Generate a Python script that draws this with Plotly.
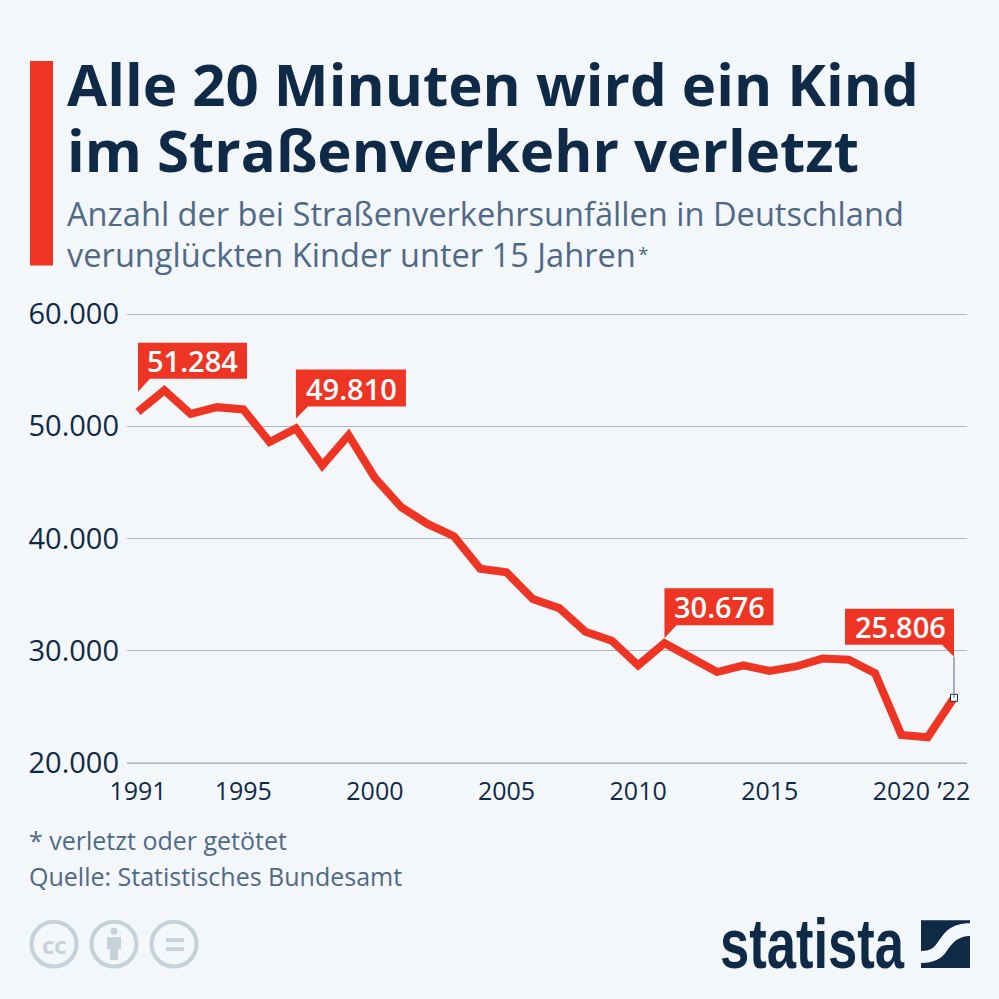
import plotly.graph_objects as go

years = list(range(1991, 2023))
values = [51284, 53200, 51100, 51700, 51500, 48600, 49810, 46500, 49200, 45400,
          42800, 41300, 40200, 37300, 37000, 34600, 33800, 31700, 30900, 28700,
          30676, 29300, 28100, 28700, 28200, 28600, 29300, 29200, 28000, 22500,
          22300, 25806]
x_ticks = [1991, 1995, 2000, 2005, 2010, 2015, 2020, 2022]
x_labels = ["1991", "1995", "2000", "2005", "2010", "2015", "2020", "’22"]
y_ticks = [20000, 30000, 40000, 50000, 60000]
y_labels = ["20.000", "30.000", "40.000", "50.000", "60.000"]
callout_years = [1991, 1997, 2011, 2022]
callout_values = [51284, 49810, 30676, 25806]
callout_labels = ["51.284", "49.810", "30.676", "25.806"]

title_lines = ["Alle 20 Minuten wird ein Kind", "im Straßenverkehr verletzt"]
subtitle_lines = ["Anzahl der bei Straßenverkehrsunfällen in Deutschland",
                  "verunglückten Kinder unter 15 Jahren"]
footnote = "* verletzt oder getötet"
source = "Quelle: Statistisches Bundesamt"

RED = "#ee3524"
NAVY = "#0f2a47"
SLATE = "#4f6a87"
BG = "#f4f7fa"
GRID = "#aeb8c2"
ICON = "#c6d2da"
FONT = "Open Sans"

# plot area in pixels; 2 px of head room keep the gridlines at both ends of the range
L, R, T, B = 127, 967, 311.5, 765.5
PAD = 2 / 11.25 * 1000


def px(x):
    return (x - L) / (R - L)


def py(y):
    return (B - y) / (B - T)


def text(x, y, s, size, color, anchor="left", weight=400, family=FONT):
    return dict(x=px(x), y=py(y), xref="paper", yref="paper", text=s,
                showarrow=False, xanchor=anchor, yanchor="middle", align="left",
                font=dict(family=family, size=size, color=color, weight=weight))


def path(d, color):
    out = ""
    for cmd, pts in d:
        out += cmd + " " + " ".join(f"{px(a):.5f},{py(b):.5f}" for a, b in pts) + " "
    return dict(type="path", xref="paper", yref="paper", path=out + "Z",
                fillcolor=color, line=dict(width=0), layer="above")


def circle(cx, cy, r, line=None, fill="rgba(0,0,0,0)"):
    return dict(type="circle", xref="paper", yref="paper", x0=px(cx - r), x1=px(cx + r),
                y0=py(cy + r), y1=py(cy - r), fillcolor=fill,
                line=dict(color=line, width=4) if line else dict(width=0))


def rect(x0, y0, x1, y1, color):
    return dict(type="rect", xref="paper", yref="paper", x0=px(x0), x1=px(x1),
                y0=py(y1), y1=py(y0), fillcolor=color, line=dict(width=0))


def callout(year, value, body, tip):
    # pixel offsets from the data point: x right, y up
    x0, x1, y0, y1 = body
    pts = f"M {x0},{y1} L {x1},{y1} L {x1},{y0} "
    if tip[3] == "l":
        pts += f"L {tip[1]},{y0} L {tip[0]},{tip[2]} L {x0},{y0} Z"
    else:
        pts += f"L {x1},{tip[2]} L {tip[1]},{y0} L {x0},{y0} Z"
    return dict(type="path", xref="x", yref="y", xsizemode="pixel", ysizemode="pixel",
                xanchor=year, yanchor=value, path=pts, fillcolor=RED, line=dict(width=0))


shapes = [rect(30, 60, 53, 265, RED),
          dict(type="line", xref="paper", yref="y", x0=0, x1=1, y0=20000, y1=20000,
               line=dict(color="#c8d0dc", width=2), layer="below")]
geoms = [((0, 109, 33, 69), (0, 12, 20, "l")),
         ((0, 110, 22, 59), (0, 12, 10, "l")),
         ((0, 109, 18, 55), (0, 12, 5, "l")),
         ((-109, 0, 53, 89), (0, -12, 41, "r"))]
for yr, val, (body, tip) in zip(callout_years, callout_values, geoms):
    shapes.append(callout(yr, val, body, tip))

# logo square and licence icons
shapes += [
    path([("M", [(921, 921)]), ("L", [(970, 921)]), ("L", [(970, 924)]),
          ("C", [(950, 924), (944, 934), (938, 943)]),
          ("C", [(934, 949), (930, 952), (921, 952)])], NAVY),
    path([("M", [(970, 937)]),
          ("C", [(958, 937), (952, 944), (946, 953)]),
          ("C", [(941, 960), (934, 964), (921, 964)]),
          ("L", [(921, 969)]), ("L", [(970, 969)])], NAVY),
]
for cx in (54, 114, 174):
    shapes.append(circle(cx, 945, 22.5, ICON))
shapes += [circle(114, 932, 3.5, None, ICON),
           rect(107, 938, 121, 950, ICON), rect(110, 950, 118, 961, ICON),
           rect(166, 939, 184, 943, ICON), rect(166, 948, 184, 952, ICON)]

annotations = [
    text(65, 82, title_lines[0], 58.2, NAVY, weight=700),
    text(65, 149, title_lines[1], 58.2, NAVY, weight=700),
    text(65, 213, subtitle_lines[0], 32.6, SLATE),
    text(65, 254, subtitle_lines[1], 32.6, SLATE),
    text(636, 253, "*", 19, SLATE),
    text(26.5, 841, footnote, 25, SLATE),
    text(27, 877, source, 25, SLATE),
    text(843, 945, "statista", 70, NAVY, anchor="center", weight=700, family="Liberation Sans"),
    text(54, 945, "cc", 24, ICON, anchor="center", weight=700),
]
label_shift = [(54, 51), (56, 40), (55, 37), (-54, 71)]
for yr, val, lab, (dx, dy) in zip(callout_years, callout_values, callout_labels, label_shift):
    annotations.append(dict(x=yr, y=val, xref="x", yref="y", text=lab, showarrow=False,
                            xshift=dx, yshift=dy, xanchor="center", yanchor="middle",
                            font=dict(family=FONT, size=29, color="white", weight=600)))

fig = go.Figure()
fig.add_trace(go.Scatter(x=years, y=values, mode="lines", hoverinfo="skip",
                         line=dict(color=RED, width=8), showlegend=False))
fig.add_trace(go.Scatter(x=[years[-1]], y=[values[-1]], mode="markers", hoverinfo="skip", showlegend=False,
                         marker=dict(symbol="square", size=7, color="white",
                                     line=dict(color=NAVY, width=1))))
shapes.append(dict(type="line", xref="x", yref="y", xsizemode="pixel", ysizemode="pixel",
                   xanchor=2022, yanchor=25806, x0=0, x1=0, y0=0, y1=41,
                   line=dict(color=SLATE, width=1)))

fig.update_layout(
    width=999, height=999, autosize=False,
    margin=dict(l=L, r=999 - R, t=T, b=999 - B, pad=0),
    paper_bgcolor=BG, plot_bgcolor=BG,
    showlegend=False, shapes=shapes, annotations=annotations,
    xaxis=dict(range=[1991 - 11 / 26.32, 2022 + 13 / 26.32], tickmode="array", tickvals=x_ticks,
               ticktext=x_labels, showgrid=False, zeroline=False, showline=False, ticks="",
               tickfont=dict(family=FONT, size=25, color=NAVY), ticklabelstandoff=9),
    yaxis=dict(range=[20000 - PAD, 60000 + PAD], tickmode="array", tickvals=y_ticks, ticktext=y_labels,
               showgrid=True, gridcolor=GRID, gridwidth=1, zeroline=False, showline=False, ticks="",
               tickfont=dict(family=FONT, size=29, color=NAVY), ticklabelstandoff=7),
)

post = """
document.documentElement.style.background = '#f4f7fa';
document.body.style.margin = '0';
document.body.style.overflow = 'hidden';
function squeezeLogo() {
  document.querySelectorAll('.annotation-text').forEach(function (t) {
    if (t.textContent === 'statista') {
      t.setAttribute('textLength', '184');
      t.setAttribute('lengthAdjust', 'spacingAndGlyphs');
    }
  });
}
squeezeLogo();
setTimeout(squeezeLogo, 50);
setTimeout(squeezeLogo, 400);
"""
fig.write_html("out.html", post_script=post, config={"displayModeBar": False})
